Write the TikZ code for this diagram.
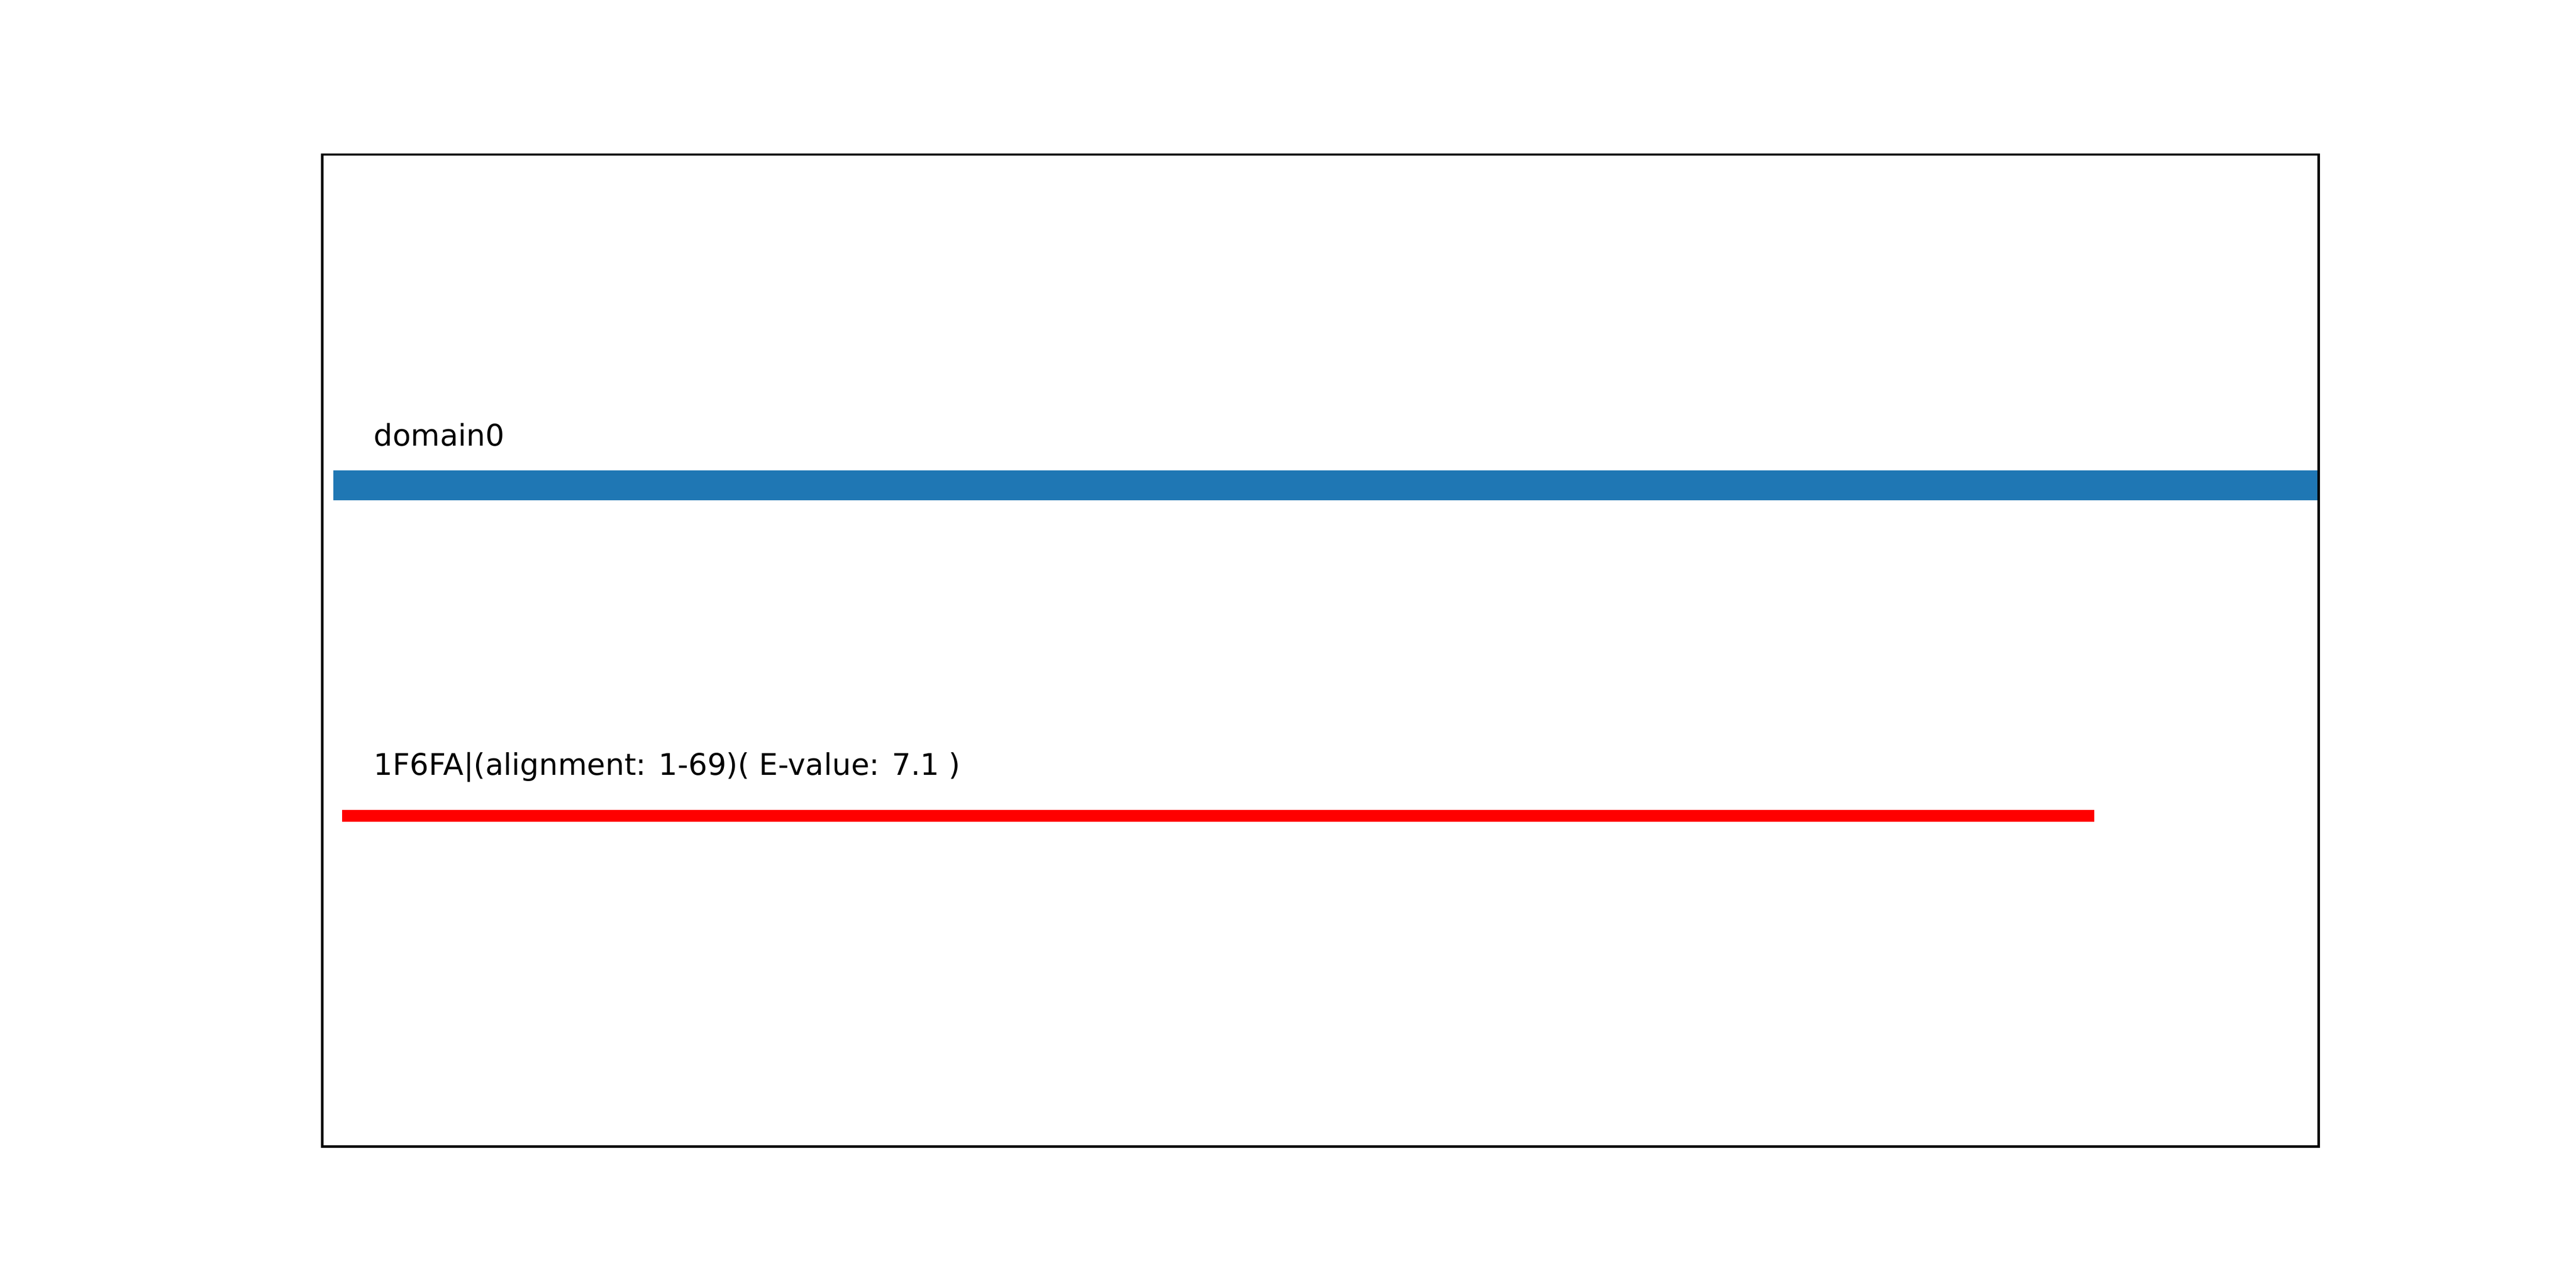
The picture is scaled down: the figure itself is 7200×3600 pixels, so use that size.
\documentclass[tikz,border=0pt]{standalone}
\usepackage{fontspec}
\setmainfont{DejaVu Sans}
\definecolor{tabblue}{HTML}{1F77B4}
\definecolor{pured}{HTML}{FF0000}
\tikzset{
  lbl/.style={anchor=base west, inner sep=0pt, outer sep=0pt, font=\fontsize{10}{12}\selectfont, text=black},
  framebox/.style={draw=black, line width=0.8pt},
  domainbar/.style={fill=tabblue, draw=none},
  hitbar/.style={fill=pured, draw=none}
}
\begin{document}
\begin{tikzpicture}[x=0.12pt, y=-0.12pt]
  \useasboundingbox (0,0) rectangle (7200,3600);
  \fill[white] (0,0) rectangle (7200,3600);
  % bars
  \fill[domainbar] (931,1315) rectangle (6481,1398);
  \fill[hitbar] (956,2264) rectangle (5853,2297);
  % labels
  \node[lbl] (dlabel) at (1045,1246) {domain0};
  \node[lbl] (hlabel) at (1045,2166) {1F6FA|(alignment: 1-69)( E-value: 7.1 )};
  % axes frame
  \draw[framebox] (900.5,432) rectangle (6481,3204.5);
\end{tikzpicture}
\end{document}
